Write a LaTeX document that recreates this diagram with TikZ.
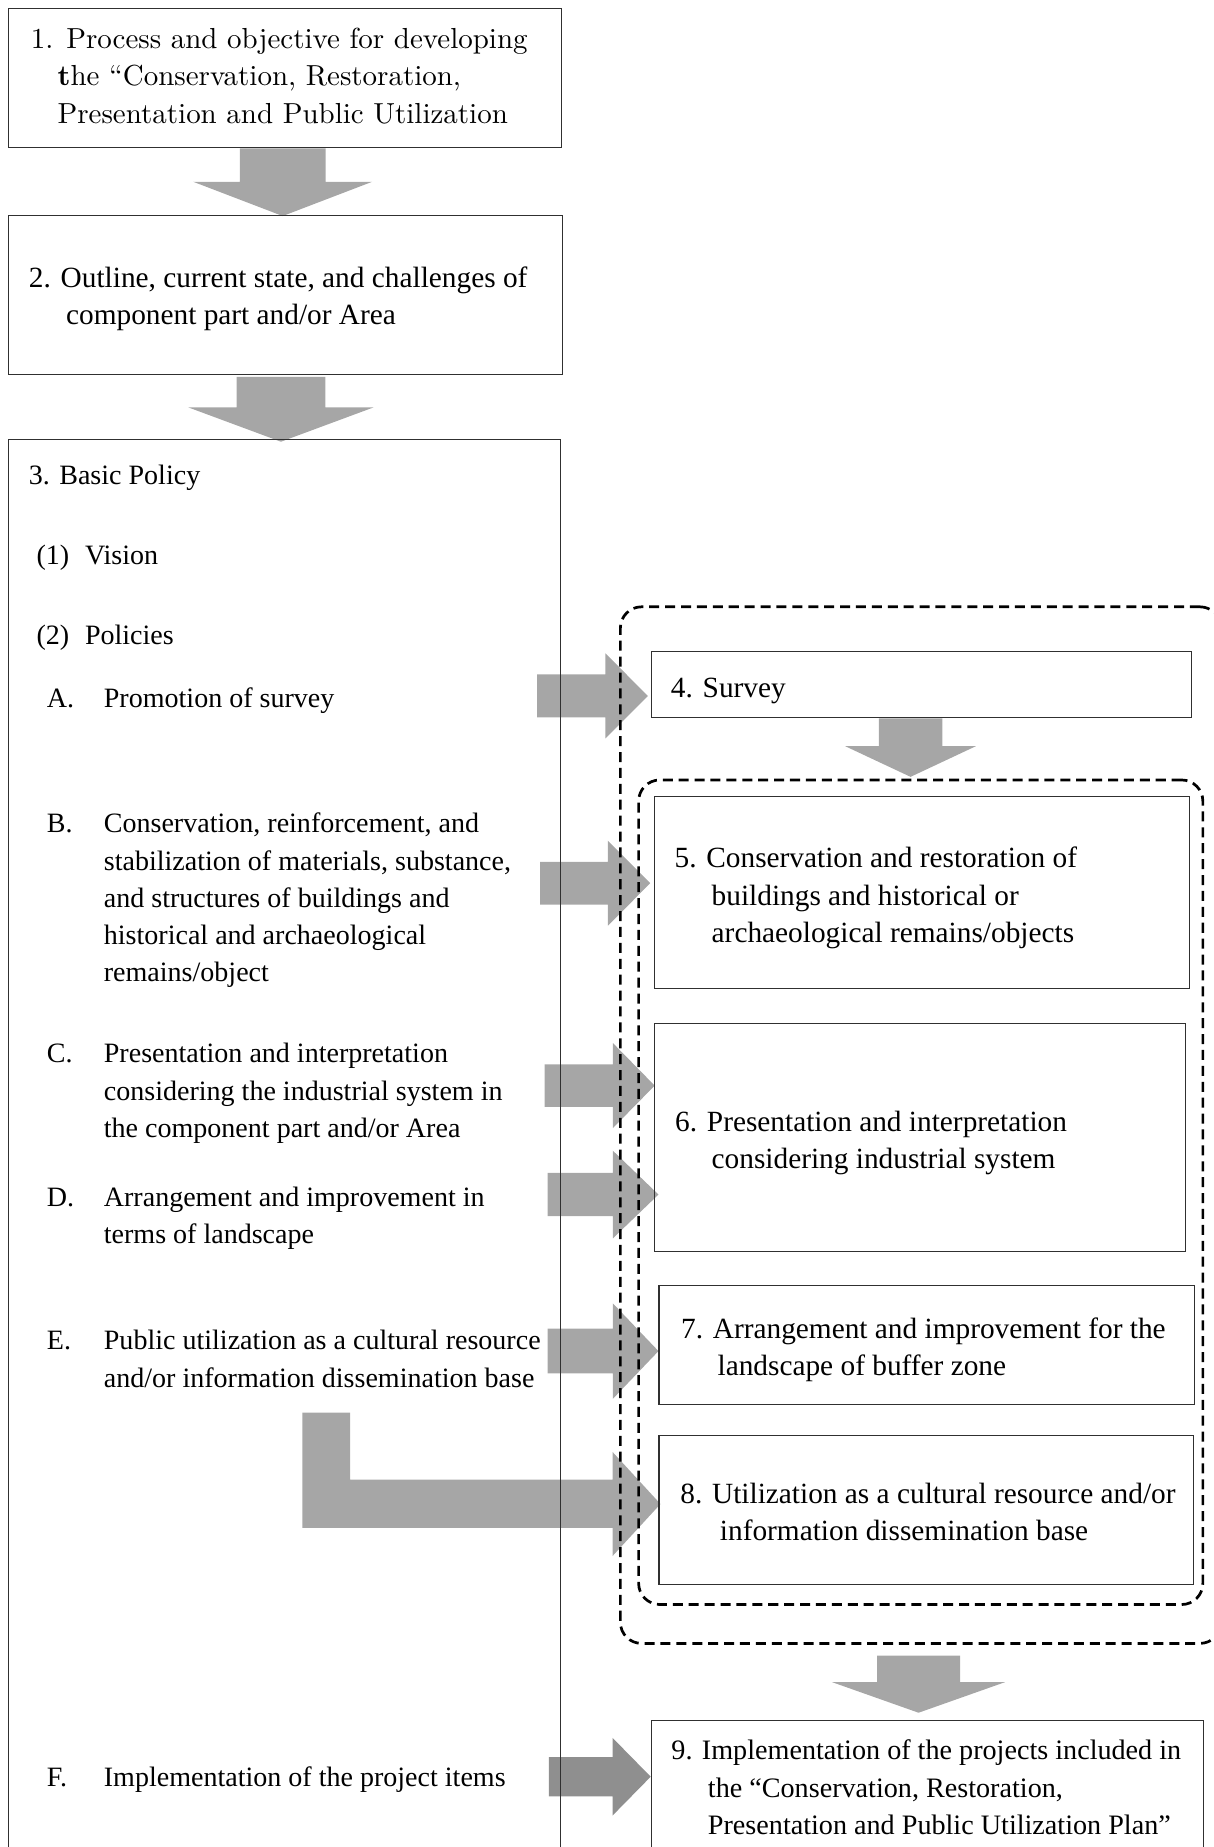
\documentclass[tikz,border=0pt]{standalone}
\usepackage{fontspec}
\setmainfont{Liberation Serif}
\newfontfamily\centfont{lmroman10-regular.otf}[BoldFont=lmroman10-bold.otf]
\usetikzlibrary{calc}
\pgfdeclarelayer{bg}
\pgfsetlayers{bg,main}
\definecolor{arrgrey}{HTML}{A6A6A6}
\definecolor{arrdark}{HTML}{8F8F8F}
\definecolor{boxline}{HTML}{303030}
\newcommand\ml[1]{\begin{tabular}[t]{@{}l@{}}#1\end{tabular}}
\newcommand\fontL{\fontsize{23.8}{31.6}\selectfont}
\newcommand\fontR{\fontsize{24.9}{31.6}\selectfont}
\newcommand\fontS{\fontsize{23.9}{31.8}\selectfont}
\newcommand\fontC{\centfont\fontsize{24.6}{31.5}\selectfont}
% down block arrow: src, tgt, cx, shaft half, head half, head len, top offset, tip offset
\newcommand\blkdown[8]{%
  \fill[arrgrey] let \p1=(#1.south), \p2=(#2.north) in
  ({#3pt-#4pt},{\y1-(#7pt)}) -- ({#3pt+#4pt},{\y1-(#7pt)}) --
  ({#3pt+#4pt},{\y2-(#8pt)+#6pt}) -- ({#3pt+#5pt},{\y2-(#8pt)+#6pt}) --
  ({#3pt},{\y2-(#8pt)}) --
  ({#3pt-#5pt},{\y2-(#8pt)+#6pt}) -- ({#3pt-#4pt},{\y2-(#8pt)+#6pt}) -- cycle;}
% right block arrow: colour, tgt, xstart, ycenter, shaft half, head half, head len, tip offset
\newcommand\blkright[8]{%
  \fill[#1] let \p2=(#2.west) in
  ({#3pt},{-#4pt+#5pt}) -- ({\x2+(#8pt)-#7pt},{-#4pt+#5pt}) --
  ({\x2+(#8pt)-#7pt},{-#4pt+#6pt}) -- ({\x2+(#8pt)},{-#4pt}) --
  ({\x2+(#8pt)-#7pt},{-#4pt-#6pt}) -- ({\x2+(#8pt)-#7pt},{-#4pt-#5pt}) --
  ({#3pt},{-#4pt-#5pt}) -- cycle;}
\begin{document}
\begin{tikzpicture}[x=1pt,y=-1pt,
  box/.style={draw=boxline, line width=0.9pt, inner sep=0pt, anchor=north west},
  dframe/.style={draw=black, line width=2.3pt, dash pattern=on 8.5pt off 5pt, rounded corners=18pt, inner sep=0pt, anchor=north west},
  lt/.style={anchor=base west, inner sep=0pt, font=\fontL},
  rt/.style={anchor=base west, inner sep=0pt, font=\fontR}]
\useasboundingbox (0,0) rectangle (1030,1568);
\clip (0,0) rectangle (1030,1568);

% boxes
\node[box, minimum width=470pt, minimum height=118.5pt] (b1) at (6.5,6.5) {};
\node[box, minimum width=470.5pt, minimum height=135.3pt] (b2) at (6.5,182.3) {};
\node[box, minimum width=468.5pt, minimum height=1220pt] (b3) at (6.5,372.8) {};
\node[dframe, minimum width=510pt, minimum height=880pt] (outer) at (525.5,514) {};
\node[dframe, minimum width=479pt, minimum height=700pt] (inner) at (541,661) {};
\node[box, minimum width=458.5pt, minimum height=56.2pt] (b4) at (552.8,552.8) {};
\node[box, minimum width=454pt, minimum height=162.7pt] (b5) at (555,676) {};
\node[box, minimum width=450.7pt, minimum height=193.6pt] (b6) at (555,868.4) {};
\node[box, minimum width=454.4pt, minimum height=101pt] (b7) at (559,1091) {};
\node[box, minimum width=454pt, minimum height=127pt] (b8) at (559,1218) {};
\node[box, minimum width=468.4pt, minimum height=140pt] (b9) at (552.8,1460) {};

% texts
\node[anchor=base west, inner sep=0pt, font=\fontC] (t1) at (26,41.5)
  {\ml{1. Process and objective for developing\\\hspace*{22.7pt}\textbf{t}he “Conservation, Restoration,\\\hspace*{22.7pt}Presentation and Public Utilization}};
\node[rt] (t2) at (24.4,244) {\ml{2. Outline, current state, and challenges of\\\hspace*{31.5pt}component part and/or Area}};
\node[lt] (t3) at (24.4,411.4) {3. Basic Policy};
\node[lt] (n1) at (30.9,479) {(1)};
\node[lt] (v1) at (72,479) {Vision};
\node[lt] (n2) at (30.9,547) {(2)};
\node[lt] (v2) at (72,547) {Policies};
\node[lt] (lA) at (39.6,601) {A.};
\node[lt] (xA) at (88,601) {Promotion of survey};
\node[lt] (lB) at (39.6,707) {B.};
\node[lt] (xB) at (88,707) {\ml{Conservation, reinforcement, and\\stabilization of materials, substance,\\and structures of buildings and\\historical and archaeological\\remains/object}};
\node[lt] (lC) at (39.6,902.4) {C.};
\node[lt] (xC) at (88,902.4) {\ml{Presentation and interpretation\\considering the industrial system in\\the component part and/or Area}};
\node[lt] (lD) at (39.6,1024) {D.};
\node[lt] (xD) at (88,1024) {\ml{Arrangement and improvement in\\terms of landscape}};
\node[lt] (lE) at (39.6,1146) {E.};
\node[lt] (xE) at (88,1146) {\ml{Public utilization as a cultural resource\\and/or information dissemination base}};
\node[lt] (lF) at (39.6,1516.6) {F.};
\node[lt] (xF) at (88,1516.6) {Implementation of the project items};

\node[rt] (t4) at (569.4,592.5) {4. Survey};
\node[rt] (t5) at (572.5,736.8) {\ml{5. Conservation and restoration of\\\hspace*{31.5pt}buildings and historical or\\\hspace*{31.5pt}archaeological remains/objects}};
\node[rt] (t6) at (573,960.5) {\ml{6. Presentation and interpretation\\\hspace*{31pt}considering industrial system}};
\node[rt] (t7) at (578,1136) {\ml{7. Arrangement and improvement for the\\\hspace*{31pt}landscape of buffer zone}};
\node[rt] (t8) at (577.4,1276) {\ml{8. Utilization as a cultural resource and/or\\\hspace*{33.6pt}information dissemination base}};
\node[rt, font=\fontS] (t9) at (569.8,1494) {\ml{9. Implementation of the projects included in\\\hspace*{31pt}the “Conservation, Restoration,\\\hspace*{31pt}Presentation and Public Utilization Plan”}};

% block arrows (behind the lines)
\begin{pgfonlayer}{bg}
\blkdown{b1}{b2}{240}{36.35}{76}{29.1}{0}{1.1}
\blkdown{b2}{b3}{238.5}{37.7}{78.5}{29.1}{1.4}{2.2}
\blkdown{b4}{inner}{773}{27}{55.4}{26}{0}{-1.5}
\blkdown{outer}{b9}{779.8}{35.2}{73.5}{26}{9.3}{-6}
\blkright{arrgrey}{b4}{456}{590.8}{18.2}{36.1}{36}{-2.8}
\blkright{arrgrey}{b5}{458.5}{749.8}{18.1}{36.1}{36}{-3}
\blkright{arrgrey}{b6}{462.4}{921.6}{18.1}{36.1}{35.5}{0.8}
\blkright{arrgrey}{b6}{465}{1014.1}{18.4}{37.2}{38.7}{4}
\blkright{arrgrey}{b7}{465}{1147}{19}{40.5}{38.7}{0}
\blkright{arrdark}{b9}{466}{1508.3}{16.7}{33}{32.4}{-0.4}
\fill[arrgrey] let \p2=(b8.west) in
  (256.6,1199.3) -- (297.3,1199.3) -- (297.3,1256) -- ({\x2-39pt},{-1256pt}) --
  ({\x2-39pt},{-1232.6pt}) -- ({\x2+1.7pt},{-1276.8pt}) -- ({\x2-39pt},{-1321pt}) --
  ({\x2-39pt},{-1297pt}) -- (256.6,1297) -- cycle;
\end{pgfonlayer}
\end{tikzpicture}
\end{document}
